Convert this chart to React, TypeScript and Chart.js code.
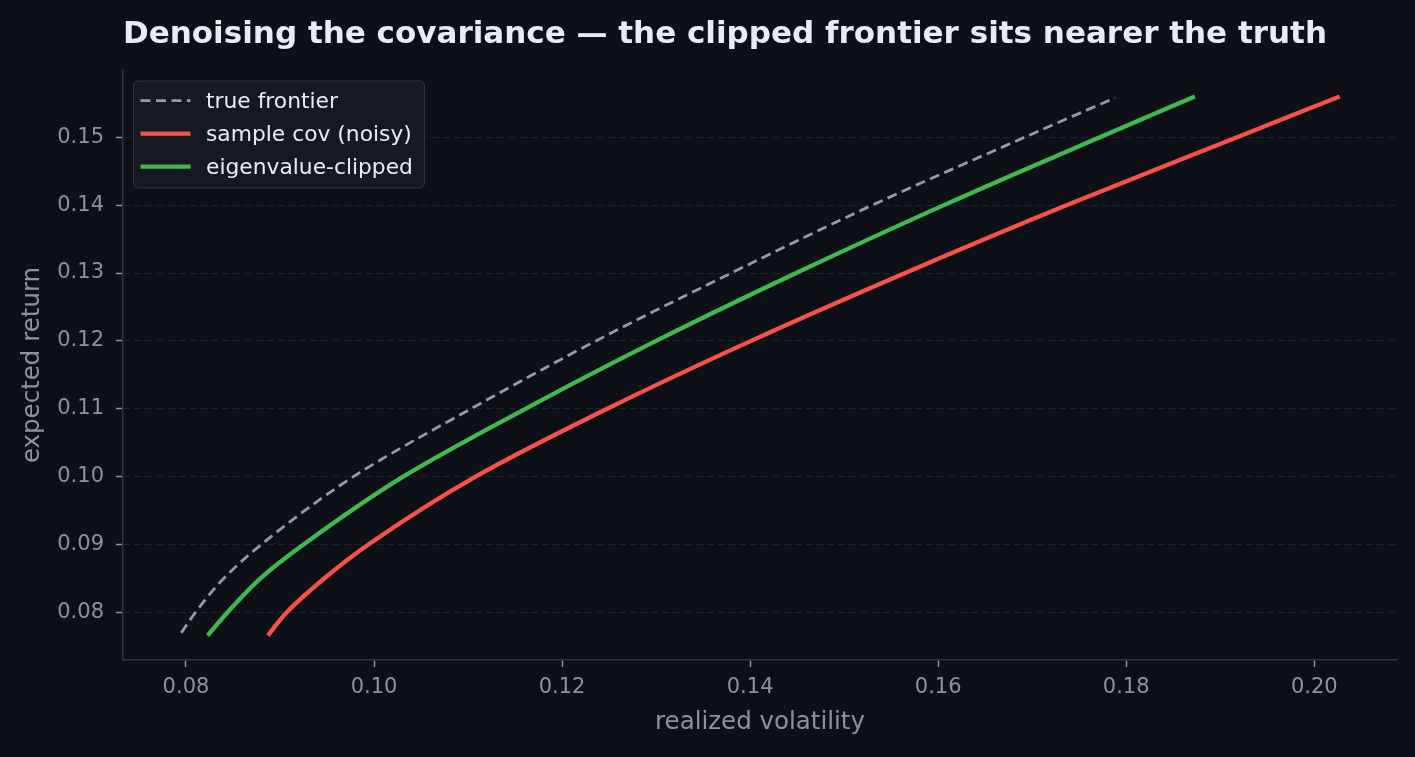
import { useEffect, useRef } from "react";
import { Chart, registerables } from "chart.js";
import type { Plugin } from "chart.js";

Chart.register(...registerables);

const trueReturns = [0.077, 0.08, 0.085, 0.09, 0.1, 0.11, 0.12, 0.13, 0.14, 0.15, 0.1558];
const trueVols = [0.0795, 0.081, 0.084, 0.088, 0.0978, 0.1103, 0.1236, 0.138, 0.153, 0.1692, 0.1788];

const sampleReturns = [0.0766, 0.08, 0.085, 0.09, 0.1, 0.11, 0.12, 0.13, 0.14, 0.15, 0.156];
const sampleVols = [0.0887, 0.0907, 0.0947, 0.0994, 0.1108, 0.1248, 0.1401, 0.1565, 0.1737, 0.1918, 0.2027];

const clippedReturns = [0.0766, 0.08, 0.085, 0.09, 0.1, 0.11, 0.12, 0.13, 0.14, 0.15, 0.156];
const clippedVols = [0.0823, 0.0844, 0.0879, 0.0925, 0.1031, 0.1161, 0.13, 0.1449, 0.1606, 0.1772, 0.1873];

const xTicks = [0.08, 0.1, 0.12, 0.14, 0.16, 0.18, 0.2];
const yTicks = [0.08, 0.09, 0.1, 0.11, 0.12, 0.13, 0.14, 0.15];

const BG = "#0d1117";
const TEXT = "#e6edf3";
const MUTED = "#8b949e";
const FONT = "'DejaVu Sans', 'Liberation Sans', sans-serif";

const toPoints = (xs: number[], ys: number[]) => xs.map((x, i) => ({ x, y: ys[i] }));

const background: Plugin<"line"> = {
  id: "background",
  beforeDraw(chart) {
    const { ctx, width, height } = chart;
    ctx.save();
    ctx.fillStyle = BG;
    ctx.fillRect(0, 0, width, height);
    ctx.restore();
  },
};

const legendBox: Plugin<"line"> = {
  id: "legendBox",
  afterDatasetsDraw(chart) {
    const { ctx, chartArea } = chart;
    const x0 = chartArea.left + 10.5;
    const y0 = chartArea.top + 11;
    ctx.save();
    ctx.beginPath();
    ctx.roundRect(x0, y0, 291, 107, 5);
    ctx.fillStyle = "rgba(22, 27, 34, 0.95)";
    ctx.fill();
    ctx.strokeStyle = "#30363d";
    ctx.lineWidth = 1;
    ctx.stroke();
    chart.data.datasets.forEach((ds: any, i) => {
      const cy = y0 + 19.7 + i * 33;
      ctx.beginPath();
      ctx.setLineDash(ds.borderDash || []);
      ctx.strokeStyle = ds.borderColor;
      ctx.lineWidth = ds.borderWidth;
      ctx.moveTo(x0 + 7, cy);
      ctx.lineTo(x0 + 57, cy);
      ctx.stroke();
      ctx.setLineDash([]);
      ctx.fillStyle = TEXT;
      ctx.font = `21.8px ${FONT}`;
      ctx.textBaseline = "alphabetic";
      ctx.fillText(ds.label, x0 + 72.5, cy + 7);
    });
    ctx.restore();
  },
};

export default function App() {
  const canvasRef = useRef<HTMLCanvasElement>(null);

  useEffect(() => {
    document.body.style.margin = "0";
    document.body.style.background = BG;
    if (!canvasRef.current) return;
    const chart = new Chart(canvasRef.current, {
      type: "line",
      data: {
        datasets: [
          {
            label: "true frontier",
            data: toPoints(trueVols, trueReturns),
            borderColor: "#949ba4",
            borderWidth: 2.8,
            borderDash: [10, 5.5],
            order: 3,
          },
          {
            label: "sample cov (noisy)",
            data: toPoints(sampleVols, sampleReturns),
            borderColor: "#f85149",
            borderWidth: 4.3,
            order: 2,
          },
          {
            label: "eigenvalue-clipped",
            data: toPoints(clippedVols, clippedReturns),
            borderColor: "#3fb950",
            borderWidth: 4.3,
            order: 1,
          },
        ],
      },
      options: {
        animation: false,
        responsive: true,
        maintainAspectRatio: false,
        // return is the independent variable along each frontier
        indexAxis: "y",
        layout: { padding: { left: 0, right: 18, top: 0, bottom: 0 } },
        elements: {
          point: { radius: 0, hoverRadius: 0 },
          line: { cubicInterpolationMode: "monotone", borderCapStyle: "butt" },
        },
        plugins: {
          legend: { display: false },
          tooltip: { enabled: false },
          title: {
            display: true,
            text: "Denoising the covariance — the clipped frontier sits nearer the truth",
            align: "start",
            fullSize: false,
            color: TEXT,
            font: { family: FONT, size: 31, weight: "bold" },
            padding: { top: 16, bottom: 16.8 },
          },
        },
        scales: {
          x: {
            type: "linear",
            position: "bottom",
            min: 0.0733,
            max: 0.2088,
            afterFit: (s) => {
              s.height = 97;
            },
            afterBuildTicks: (s) => {
              s.ticks = xTicks.map((value) => ({ value }));
            },
            ticks: {
              color: MUTED,
              font: { family: FONT, size: 21 },
              padding: 8,
              callback: (v) => Number(v).toFixed(2),
            },
            grid: {
              drawOnChartArea: false,
              tickLength: 7,
              tickColor: MUTED,
              tickWidth: 1.5,
            },
            border: { color: "#30363d", width: 1.5 },
            title: {
              display: true,
              text: "realized volatility",
              color: MUTED,
              font: { family: FONT, size: 24.5 },
              padding: { top: 0, bottom: 19.3 },
            },
          },
          y: {
            type: "linear",
            position: "left",
            min: 0.073,
            max: 0.1599,
            afterFit: (s) => {
              s.width = 123;
            },
            afterBuildTicks: (s) => {
              s.ticks = yTicks.map((value) => ({ value }));
            },
            ticks: {
              color: MUTED,
              font: { family: FONT, size: 21 },
              padding: 12,
              callback: (v) => Number(v).toFixed(2),
            },
            grid: {
              color: "#1f242b",
              lineWidth: 1,
              tickLength: 7,
              tickColor: MUTED,
              tickWidth: 1.5,
              tickBorderDash: [],
            },
            border: { color: "#30363d", width: 1.5, dash: [7, 4] },
            title: {
              display: true,
              text: "expected return",
              color: MUTED,
              font: { family: FONT, size: 24.5 },
              padding: { top: 18.3, bottom: 0 },
            },
          },
        },
      },
      plugins: [background, legendBox],
    });
    return () => chart.destroy();
  }, []);

  return (
    <div style={{ position: "fixed", left: 0, top: 0, width: 1415, height: 757, background: BG }}>
      <canvas ref={canvasRef} />
    </div>
  );
}
